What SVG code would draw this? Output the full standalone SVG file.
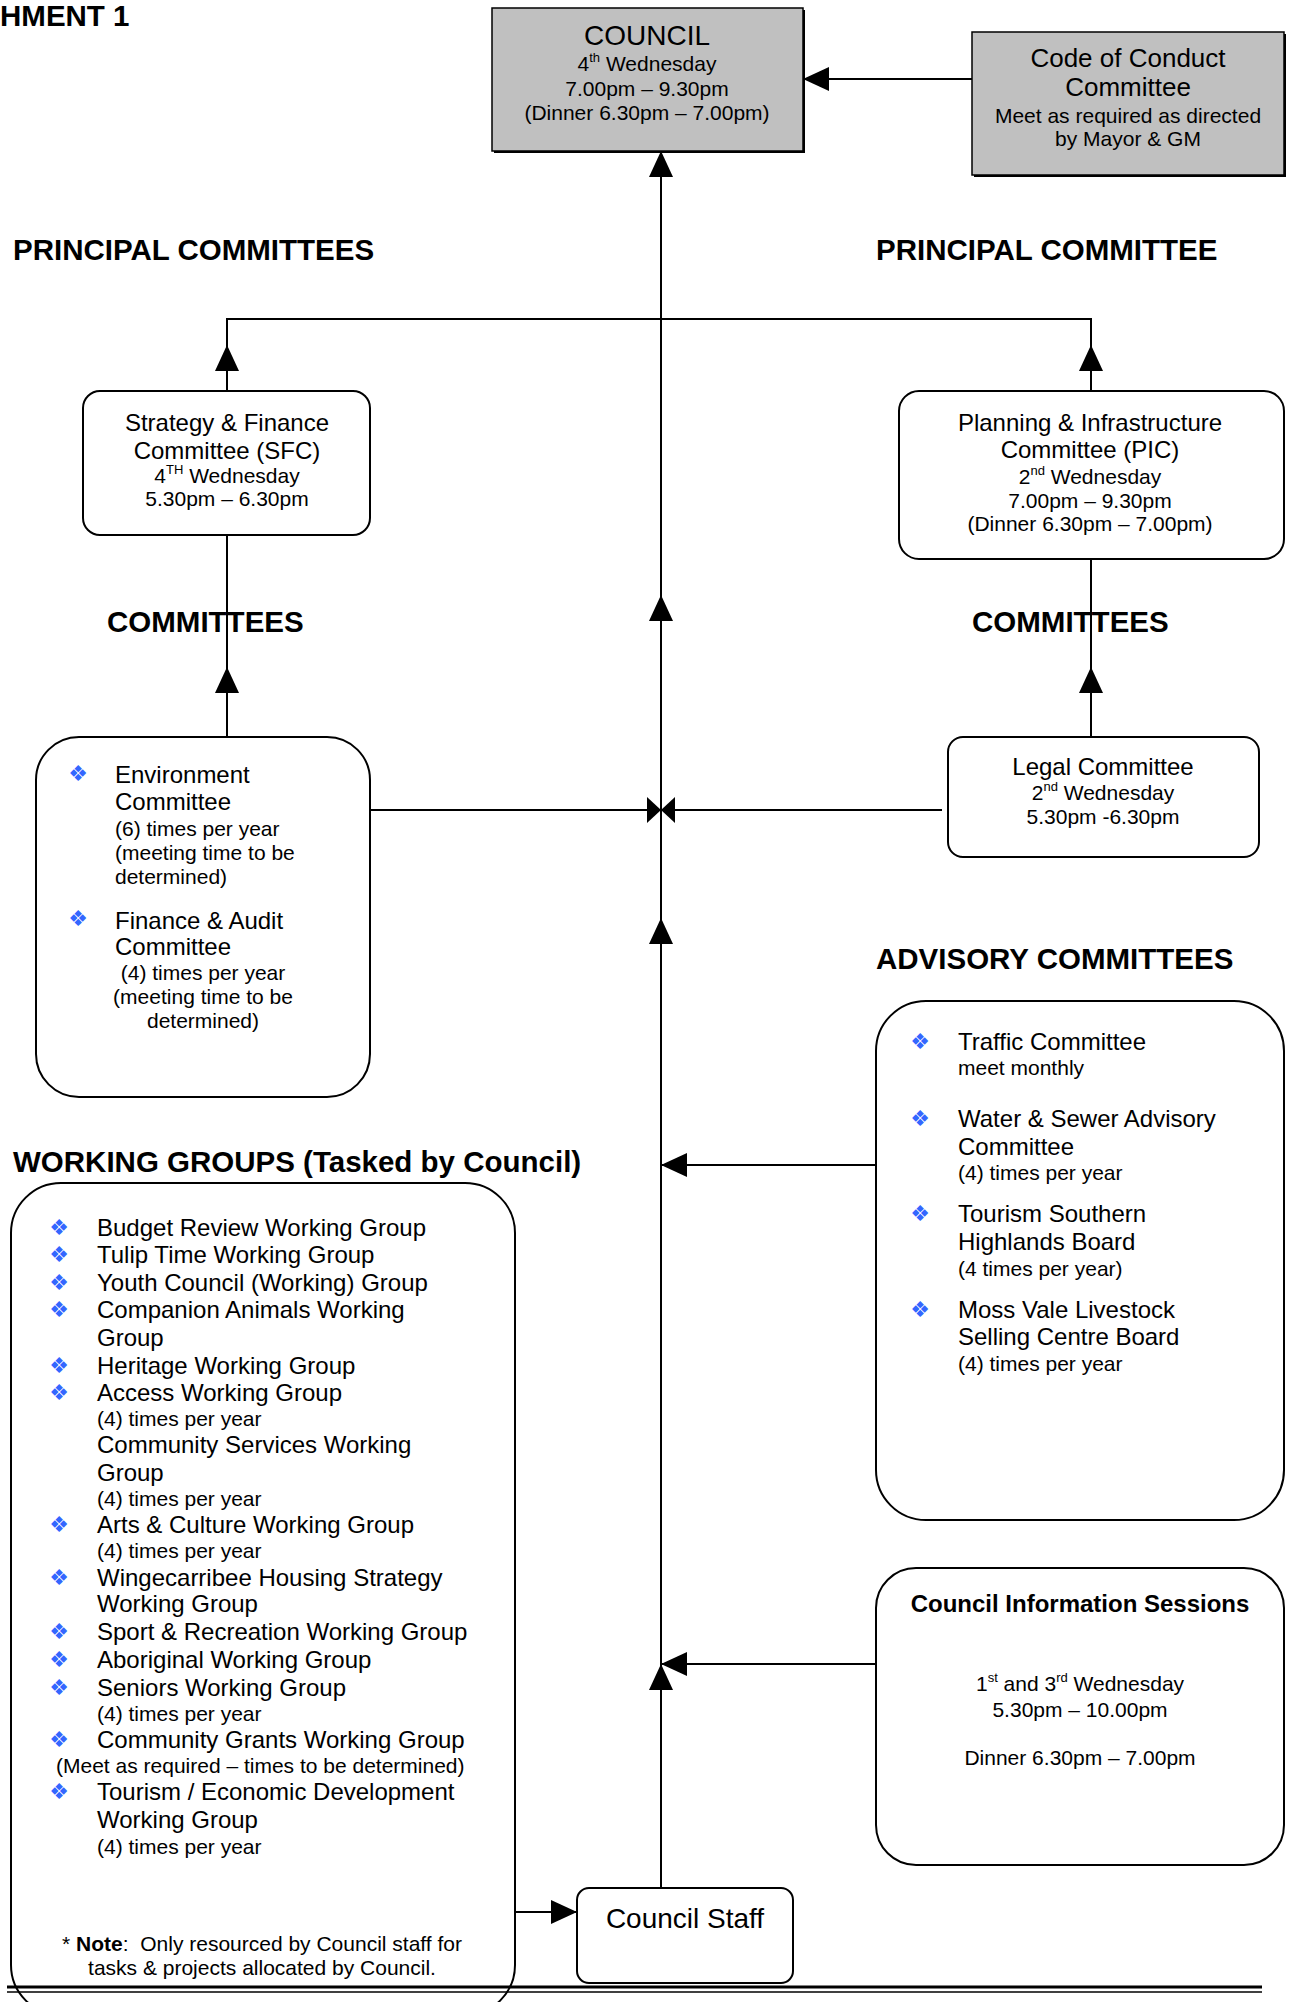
<svg xmlns="http://www.w3.org/2000/svg" xmlns:xlink="http://www.w3.org/1999/xlink" width="1290" height="2002" viewBox="0 0 1290 2002">
<style>
text { font-family: "Liberation Sans", Arial, sans-serif; fill: #000; }
.f28 { font-size: 28px; }
.f26 { font-size: 26px; }
.f24 { font-size: 24px; }
.f21 { font-size: 21px; }
.h { font-size: 29.5px; font-weight: bold; }
.b24 { font-size: 24px; font-weight: bold; }
.m { text-anchor: middle; }
.sup { font-size: 13px; }
.bul { font-family: "DejaVu Sans", sans-serif; font-size: 22px; fill: #3366ff; text-anchor: middle; }
.gray { fill: #c0c0c0; stroke: #000; stroke-width: 1.5; }
.shadow { fill: #000; }
.box { fill: #fff; stroke: #000; stroke-width: 2; }
.ln { fill: none; stroke: #000; stroke-width: 2; }
</style>
<defs>
<path id="arr" d="M0,0 L-26,-12 L-26,12 z" fill="#000"/>
<path id="arrs" d="M0,0 L-14,-13 L-14,13 z" fill="#000"/>
</defs>
<rect x="0" y="0" width="1290" height="2002" fill="#fff"/>

<text class="h" x="0" y="26">HMENT 1</text>
<text class="h" x="13" y="260">PRINCIPAL COMMITTEES</text>
<text class="h" x="876" y="260">PRINCIPAL COMMITTEE</text>
<text class="h" x="876" y="969">ADVISORY COMMITTEES</text>
<text class="h" x="13" y="1172">WORKING GROUPS (Tasked by Council)</text>

<g id="connectors">
<path class="ln" d="M972,79 H803"/>
<use xlink:href="#arr" transform="translate(803,79) rotate(180)"/>
<path class="ln" d="M661,151 V1888"/>
<use xlink:href="#arr" transform="translate(661,151) rotate(-90)"/>
<use xlink:href="#arr" transform="translate(661,595) rotate(-90)"/>
<use xlink:href="#arr" transform="translate(661,918) rotate(-90)"/>
<use xlink:href="#arr" transform="translate(661,1664) rotate(-90)"/>
<path class="ln" d="M227,391 V319 H1091 V391"/>
<use xlink:href="#arr" transform="translate(227,345) rotate(-90)"/>
<use xlink:href="#arr" transform="translate(1091,345) rotate(-90)"/>
<path class="ln" d="M227,737 V535"/>
<use xlink:href="#arr" transform="translate(227,667) rotate(-90)"/>
<path class="ln" d="M1091,737 V559"/>
<use xlink:href="#arr" transform="translate(1091,667) rotate(-90)"/>
<path class="ln" d="M370,810 H942"/>
<use xlink:href="#arrs" transform="translate(661,810)"/>
<use xlink:href="#arrs" transform="translate(661,810) rotate(180)"/>
<path class="ln" d="M876,1165 H661"/>
<use xlink:href="#arr" transform="translate(661,1165) rotate(180)"/>
<path class="ln" d="M876,1664 H661"/>
<use xlink:href="#arr" transform="translate(661,1664) rotate(180)"/>
<path class="ln" d="M515,1912 H577"/>
<use xlink:href="#arr" transform="translate(577,1912)"/>
</g>

<g id="council">
<rect class="shadow" x="494" y="10" width="311" height="143"/>
<rect class="gray" x="492" y="8" width="311" height="143"/>
<text class="f28 m" x="647" y="45">COUNCIL</text>
<text class="f21 m" x="647" y="70.5">4<tspan class="sup" dy="-9">th</tspan><tspan dy="9"> Wednesday</tspan></text>
<text class="f21 m" x="647" y="95.5">7.00pm – 9.30pm</text>
<text class="f21 m" x="647" y="119.5">(Dinner 6.30pm – 7.00pm)</text>
</g>

<g id="code-of-conduct">
<rect class="shadow" x="974" y="34" width="312" height="143"/>
<rect class="gray" x="972" y="32" width="312" height="143"/>
<text class="f26 m" x="1128" y="67">Code of Conduct</text>
<text class="f26 m" x="1128" y="96">Committee</text>
<text class="f21 m" x="1128" y="122.5">Meet as required as directed</text>
<text class="f21 m" x="1128" y="145.5">by Mayor &amp; GM</text>
</g>

<g id="sfc">
<rect class="box" x="83" y="391" width="287" height="144" rx="17"/>
<text class="f24 m" x="227" y="430.5">Strategy &amp; Finance</text>
<text class="f24 m" x="227" y="458.5">Committee (SFC)</text>
<text class="f21 m" x="227" y="482.5">4<tspan class="sup" dy="-9">TH</tspan><tspan dy="9"> Wednesday</tspan></text>
<text class="f21 m" x="227" y="505.5">5.30pm – 6.30pm</text>
</g>

<g id="pic">
<rect class="box" x="899" y="391" width="385" height="168" rx="20"/>
<text class="f24 m" x="1090" y="430.5">Planning &amp; Infrastructure</text>
<text class="f24 m" x="1090" y="457.5">Committee (PIC)</text>
<text class="f21 m" x="1090" y="483.5">2<tspan class="sup" dy="-9">nd</tspan><tspan dy="9"> Wednesday</tspan></text>
<text class="f21 m" x="1090" y="507.5">7.00pm – 9.30pm</text>
<text class="f21 m" x="1090" y="530.5">(Dinner 6.30pm – 7.00pm)</text>
</g>

<text class="h" x="107" y="632">COMMITTEES</text>
<text class="h" x="972" y="632">COMMITTEES</text>

<g id="committees-left">
<rect class="box" x="36" y="737" width="334" height="360" rx="43"/>
<text class="bul" x="78" y="781">❖</text>
<text class="f24" x="115" y="782.6">Environment</text>
<text class="f24" x="115" y="809.6">Committee</text>
<text class="f21" x="115" y="835.5">(6) times per year</text>
<text class="f21" x="115" y="859.5">(meeting time to be</text>
<text class="f21" x="115" y="883.5">determined)</text>
<text class="bul" x="78" y="926">❖</text>
<text class="f24" x="115" y="928.6">Finance &amp; Audit</text>
<text class="f24" x="115" y="954.6">Committee</text>
<text class="f21 m" x="203" y="979.5"> (4) times per year</text>
<text class="f21 m" x="203" y="1003.5">(meeting time to be</text>
<text class="f21 m" x="203" y="1027.5">determined)</text>
</g>

<g id="legal">
<rect class="box" x="948" y="737" width="311" height="120" rx="15"/>
<text class="f24 m" x="1103" y="774.5">Legal Committee</text>
<text class="f21 m" x="1103" y="799.5">2<tspan class="sup" dy="-9">nd</tspan><tspan dy="9"> Wednesday</tspan></text>
<text class="f21 m" x="1103" y="823.5">5.30pm -6.30pm</text>
</g>

<g id="advisory">
<rect class="box" x="876" y="1001" width="408" height="519" rx="50"/>
<text class="bul" x="920" y="1049">❖</text>
<text class="f24" x="958" y="1049.6">Traffic Committee</text>
<text class="f21" x="958" y="1074.5">meet monthly</text>
<text class="bul" x="920" y="1126">❖</text>
<text class="f24" x="958" y="1126.6">Water &amp; Sewer Advisory</text>
<text class="f24" x="958" y="1154.6">Committee</text>
<text class="f21" x="958" y="1179.5">(4) times per year</text>
<text class="bul" x="920" y="1221">❖</text>
<text class="f24" x="958" y="1221.6">Tourism Southern</text>
<text class="f24" x="958" y="1249.6">Highlands Board</text>
<text class="f21" x="958" y="1275.5">(4 times per year)</text>
<text class="bul" x="920" y="1317">❖</text>
<text class="f24" x="958" y="1317.6">Moss Vale Livestock</text>
<text class="f24" x="958" y="1344.6">Selling Centre Board</text>
<text class="f21" x="958" y="1370.5">(4) times per year</text>
</g>

<g id="working-groups">
<rect class="box" x="11" y="1183" width="504" height="832" rx="50"/>
<text class="bul" x="59" y="1235">❖</text>
<text class="f24" x="97" y="1235.6">Budget Review Working Group</text>
<text class="bul" x="59" y="1262">❖</text>
<text class="f24" x="97" y="1262.6">Tulip Time Working Group</text>
<text class="bul" x="59" y="1290">❖</text>
<text class="f24" x="97" y="1290.6">Youth Council (Working) Group</text>
<text class="bul" x="59" y="1317">❖</text>
<text class="f24" x="97" y="1317.6">Companion Animals Working</text>
<text class="f24" x="97" y="1345.6">Group</text>
<text class="bul" x="59" y="1373">❖</text>
<text class="f24" x="97" y="1373.6">Heritage Working Group</text>
<text class="bul" x="59" y="1400">❖</text>
<text class="f24" x="97" y="1400.6">Access Working Group</text>
<text class="f21" x="97" y="1425.5">(4) times per year</text>
<text class="f24" x="97" y="1452.6">Community Services Working</text>
<text class="f24" x="97" y="1480.6">Group</text>
<text class="f21" x="97" y="1505.5">(4) times per year</text>
<text class="bul" x="59" y="1532">❖</text>
<text class="f24" x="97" y="1532.6">Arts &amp; Culture Working Group</text>
<text class="f21" x="97" y="1557.5">(4) times per year</text>
<text class="bul" x="59" y="1585">❖</text>
<text class="f24" x="97" y="1585.6">Wingecarribee Housing Strategy</text>
<text class="f24" x="97" y="1611.6">Working Group</text>
<text class="bul" x="59" y="1639">❖</text>
<text class="f24" x="97" y="1639.6">Sport &amp; Recreation Working Group</text>
<text class="bul" x="59" y="1667">❖</text>
<text class="f24" x="97" y="1667.6">Aboriginal Working Group</text>
<text class="bul" x="59" y="1695">❖</text>
<text class="f24" x="97" y="1695.6">Seniors Working Group</text>
<text class="f21" x="97" y="1720.5">(4) times per year</text>
<text class="bul" x="59" y="1747">❖</text>
<text class="f24" x="97" y="1747.6">Community Grants Working Group</text>
<text class="f21" x="56" y="1772.5">(Meet as required – times to be determined)</text>
<text class="bul" x="59" y="1799">❖</text>
<text class="f24" x="97" y="1799.6">Tourism / Economic Development</text>
<text class="f24" x="97" y="1827.6">Working Group</text>
<text class="f21" x="97" y="1853.5">(4) times per year</text>
<text class="f21 m" x="262" y="1950.5" xml:space="preserve">* <tspan font-weight="bold">Note</tspan>:  Only resourced by Council staff for</text>
<text class="f21 m" x="262" y="1974.5">tasks &amp; projects allocated by Council.</text>
</g>

<g id="info-sessions">
<rect class="box" x="876" y="1568" width="408" height="297" rx="40"/>
<text class="b24 m" x="1080" y="1612">Council Information Sessions</text>
<text class="f21 m" x="1080" y="1690.5">1<tspan class="sup" dy="-9">st</tspan><tspan dy="9"> and 3</tspan><tspan class="sup" dy="-9">rd</tspan><tspan dy="9"> Wednesday</tspan></text>
<text class="f21 m" x="1080" y="1716.5">5.30pm – 10.00pm</text>
<text class="f21 m" x="1080" y="1764.5">Dinner 6.30pm – 7.00pm</text>
</g>

<g id="council-staff">
<rect class="box" x="577" y="1888" width="216" height="95" rx="12"/>
<text class="f28 m" x="685" y="1928">Council Staff</text>
</g>

<g id="footer-rule">
<line x1="7" y1="1987" x2="1262" y2="1987" stroke="#000" stroke-width="3"/>
<line x1="7" y1="1992" x2="1262" y2="1992" stroke="#000" stroke-width="1.5"/>
</g>
</svg>
